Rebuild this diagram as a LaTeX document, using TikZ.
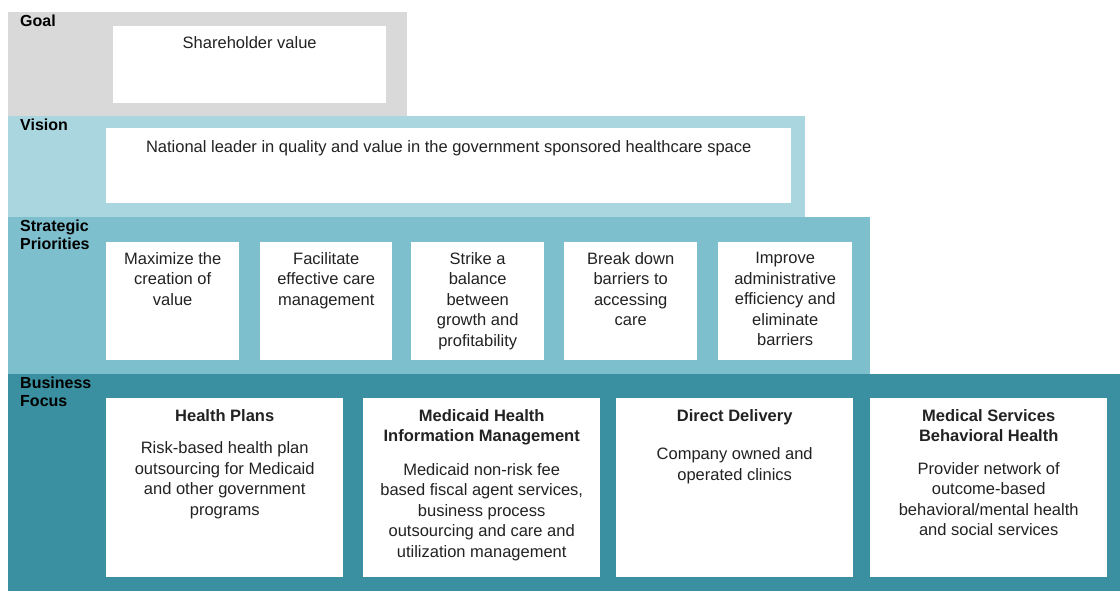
\documentclass[tikz,border=0pt]{standalone}
\usepackage{fontspec}
\setmainfont{Liberation Sans}
\usepackage{xcolor}
\usepackage{tikz}

\definecolor{goalgrey}{HTML}{D9D9D9}
\definecolor{visionteal}{HTML}{AAD6DF}
\definecolor{stratteal}{HTML}{7EBFCD}
\definecolor{bizteal}{HTML}{3A8FA0}
\definecolor{boxtext}{HTML}{222222}

\tikzset{
	whitebox/.style={fill=white, draw=none, inner sep=0pt, anchor=north west},
	boxtxt/.style={inner sep=0pt, anchor=north, align=center, text=boxtext,
		font=\fontsize{16.5}{20.5}\selectfont},
	tierlabel/.style={inner sep=0pt, anchor=north west, align=left, text=black,
		font=\bfseries\fontsize{16}{17.5}\selectfont}
}

\begin{document}
\begin{tikzpicture}[x=1pt, y=-1pt]
			\useasboundingbox (0,0) rectangle (1120,592);
			\fill[white] (0,0) rectangle (1120,592);
			
			% the four tiers
			\fill[goalgrey] (8,12) rectangle (407,116);
			\fill[visionteal] (8,116) rectangle (805,217);
			\fill[stratteal] (8,217) rectangle (870,374);
			\fill[bizteal] (8,374) rectangle (1120,591);
			
			\node[tierlabel] (goal) at (20,15) {Goal};
			\node[tierlabel] (vision) at (20,119) {Vision};
			\node[tierlabel] (strat) at (20,220) {Strategic\\Priorities};
			\node[tierlabel] (biz) at (20,377) {Business\\Focus};
			
			% goal and vision
			\node[whitebox, minimum width=273, minimum height=77] (goalbox) at (113,26) {};
			\node[boxtxt] (goaltxt) at ([yshift=-10pt]goalbox.north) {Shareholder value};
			\node[whitebox, minimum width=685, minimum height=75] (visionbox) at (106,128) {};
			\node[boxtxt] (visiontxt) at ([yshift=-12pt]visionbox.north)
				{National leader in quality and value in the government sponsored healthcare space};
			
			% strategic priorities
			\foreach \i/\x/\w in {1/106/133, 2/260/132, 3/411/133, 4/564/133, 5/718/134}
				\node[whitebox, minimum width=\w, minimum height=118] (sp\i) at (\x,242) {};
			\node[boxtxt] (sptxt1) at ([yshift=-10pt]sp1.north) {Maximize the\\creation of\\value};
			\node[boxtxt] (sptxt2) at ([yshift=-10pt]sp2.north) {Facilitate\\effective care\\management};
			\node[boxtxt] (sptxt3) at ([yshift=-10pt]sp3.north) {Strike a\\balance\\between\\growth and\\profitability};
			\node[boxtxt] (sptxt4) at ([yshift=-10pt]sp4.north) {Break down\\barriers to\\accessing\\care};
			\node[boxtxt] (sptxt5) at ([yshift=-10pt]sp5.north) {Improve\\administrative\\efficiency and\\eliminate\\barriers};
			
			% business focus
			\foreach \i/\x in {1/106, 2/363, 3/616, 4/870}
				\node[whitebox, minimum width=237, minimum height=179] (bf\i) at (\x,398) {};
			\node[boxtxt] (bftxt1) at ([yshift=-11pt]bf1.north)
				{\textbf{Health Plans}\\[12pt]Risk-based health plan\\outsourcing for Medicaid\\and other government\\programs};
			\node[boxtxt] (bftxt2) at ([yshift=-11pt]bf2.north)
				{\textbf{Medicaid Health}\\\textbf{Information Management}\\[13pt]Medicaid non-risk fee\\based fiscal agent services,\\business process\\outsourcing and care and\\utilization management};
			\node[boxtxt] (bftxt3) at ([yshift=-11pt]bf3.north)
				{\textbf{Direct Delivery}\\[18pt]Company owned and\\operated clinics};
			\node[boxtxt] (bftxt4) at ([yshift=-11pt]bf4.north)
				{\textbf{Medical Services}\\\textbf{Behavioral Health}\\[12pt]Provider network of\\outcome-based\\behavioral/mental health\\and social services};
		\end{tikzpicture}
\end{document}
